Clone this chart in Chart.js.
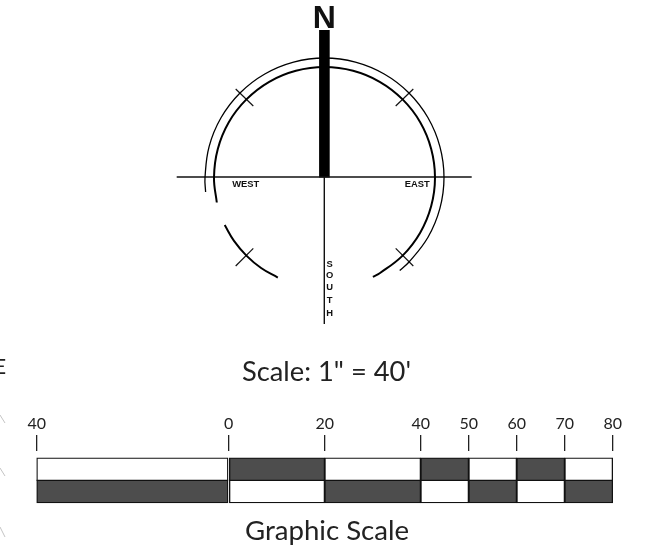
<!DOCTYPE html>
<html><head><meta charset="utf-8">
<style>html,body{margin:0;background:#fff;overflow:hidden}canvas{position:absolute;left:0;top:0}</style>
<script src="https://cdn.jsdelivr.net/npm/chart.js@4"></script></head>
<body><canvas id="compass" width="658" height="553"></canvas><canvas id="bars" width="658" height="553"></canvas>
<script>
// graphic scale
const tickValues=[-40,0,20,40,50,60,70,80];
const tickLabels=['40','0','20','40','50','60','70','80'];
const topWhite=[[-40,0],[20,40],[50,60],[70,80]];
const topDark=[[0,20],[40,50],[60,70]];
const bottomDark=[[-40,0],[20,40],[50,60],[70,80]];
const bottomWhite=[[0,20],[40,50],[60,70]];
// north arrow
const outerArc=[[205.6,192],[205,177.5],[209.1,146.6],[221,117.8],[240,93],[264.8,74],[293.6,62.1],[324.5,58],[355.4,62.1],[384.2,74],[409,93],[428,117.8],[439.9,146.6],[444,177.5],[439.9,208.4],[428,237.2],[409,262],[399.7,270.4]];
const innerArc=[[216.8,202.5],[214,177.5],[217.8,148.9],[228.8,122.2],[246.4,99.4],[269.2,81.8],[295.9,70.8],[324.5,67],[353.1,70.8],[379.7,81.8],[402.6,99.4],[420.2,122.2],[431.2,148.9],[435,177.5],[431.2,206.1],[420.2,232.7],[402.6,255.6],[379.7,273.2],[372.9,276.8]];
const lowerLeftArc=[[224.7,225.1],[234,240.9],[246.4,255.6],[261.1,268],[277.8,277.6]];
const eastWest=[[176.7,177],[471.7,177]];
const south=[[324.3,177],[324.3,324]];
const stem=[[324.4,30],[324.4,177.5]];
const crossNW=[[235.7,89],[253.3,106]];
const crossNE=[[413.3,89],[395.7,106]];
const crossSW=[[253.3,248.3],[235.7,266]];
const crossSE=[[395.7,248.3],[413.3,266]];
const stray1=[[0,415],[5,423]];
const stray2=[[0,468],[5,476]];
const stray3=[[0,527],[5,537]];
const labels=[
 ['N',324.2,19.5,'bold 32px "Liberation Sans"','#111'],
 ['WEST',245.8,184.7,'bold 9.4px "Liberation Sans"','#111'],
 ['EAST',417.2,184.7,'bold 9.4px "Liberation Sans"','#111'],
 ['S',329.7,264,'bold 9.4px "Liberation Sans"','#111'],
 ['O',329.7,275.5,'bold 9.4px "Liberation Sans"','#111'],
 ['U',329.7,287.5,'bold 9.4px "Liberation Sans"','#111'],
 ['T',329.7,300,'bold 9.4px "Liberation Sans"','#111'],
 ['H',329.7,313.5,'bold 9.4px "Liberation Sans"','#111'],
 ['Scale: 1" = 40\'',326.5,372,'27.3px Lato','#222'],
 ['Graphic Scale',327,531.5,'27.6px Lato','#222'],
 ['E',0,367.5,'21px Lato','#222']
];
const pts=a=>a.map(([x,y])=>({x,y}));
const line=(a,w,c,t)=>({data:pts(a),showLine:true,borderColor:c||'#000',borderWidth:w,pointRadius:0,tension:t||0,clip:false});
const textLayer={id:'textLayer',afterDraw(ch){
  const c=ch.ctx,X=ch.scales.x,Y=ch.scales.y;
  c.save();c.textAlign='center';c.textBaseline='middle';
  labels.forEach(([s,x,y,f,col])=>{c.font=f;c.fillStyle=col;c.fillText(s,X.getPixelForValue(x),Y.getPixelForValue(y));});
  c.restore();
}};
new Chart(document.getElementById('compass'),{type:'scatter',plugins:[textLayer],
 data:{datasets:[
  line(outerArc,1.3,'#000',0.4),line(innerArc,2,'#000',0.4),line(lowerLeftArc,2,'#000',0.4),
  line(eastWest,1.4,'#111'),line(south,1.4,'#111'),line(stem,10.6,'#000'),
  line(crossNW,1.2,'#111'),line(crossNE,1.2,'#111'),line(crossSW,1.2,'#111'),line(crossSE,1.2,'#111'),
  line(stray1,1,'#c4c4c4'),line(stray2,1,'#c4c4c4'),line(stray3,1,'#c4c4c4')
 ]},
 options:{responsive:false,animation:false,events:[],layout:{padding:0},
  plugins:{legend:{display:false},tooltip:{enabled:false}},
  scales:{x:{type:'linear',min:0,max:658,display:false},y:{type:'linear',min:0,max:553,reverse:true,display:false}}}
});
const rows=(a,y)=>a.map(r=>({x:r,y}));
const seg=(d,c)=>({data:d,backgroundColor:c,borderColor:'#111',borderWidth:1.3,borderSkipped:false,barThickness:23,grouped:false,clip:false});
new Chart(document.getElementById('bars'),{type:'bar',
 data:{datasets:[seg(rows(topWhite,1),'#fff'),seg(rows(topDark,1),'#4d4d4d'),seg(rows(bottomWhite,2),'#fff'),seg(rows(bottomDark,2),'#4d4d4d')]},
 options:{indexAxis:'y',responsive:false,animation:false,events:[],
  layout:{padding:{left:36.7,right:45.3,top:411,bottom:50}},
  plugins:{legend:{display:false},tooltip:{enabled:false}},
  scales:{
   x:{type:'linear',position:'top',min:-40,max:80,
    afterBuildTicks:ax=>{ax.ticks=tickValues.map(value=>({value}));},
    afterFit:ax=>{ax.height=40;},
    border:{display:false},
    grid:{drawOnChartArea:false,tickLength:16,color:'#222',lineWidth:1.3},
    ticks:{autoSkip:false,maxRotation:0,padding:2,color:'#222',font:{family:'Lato',size:16},callback:v=>tickLabels[tickValues.indexOf(v)]}},
   y:{type:'linear',display:false,reverse:true,min:0.18,max:2.52,offset:false}
  }}
});
</script></body></html>
